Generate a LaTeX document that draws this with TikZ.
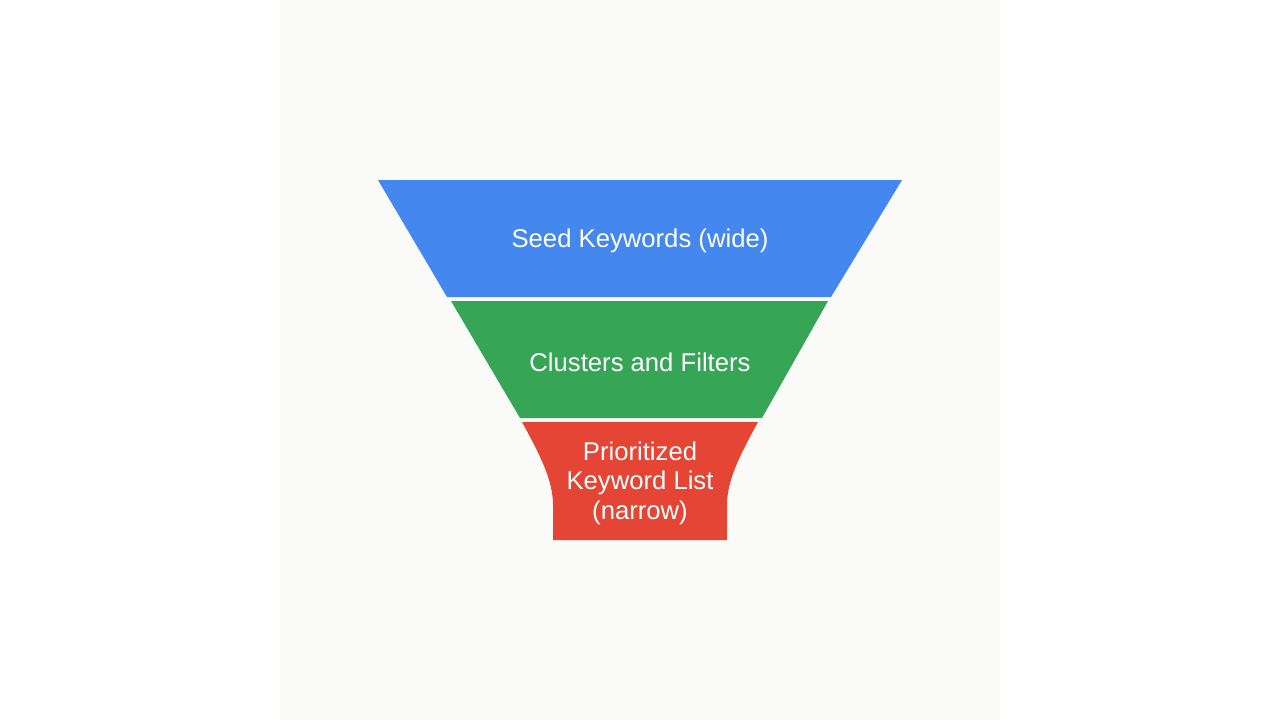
\documentclass[tikz,border=0pt]{standalone}
\usepackage{fontspec}
\setmainfont{Liberation Sans}
\definecolor{seedblue}{HTML}{4487EE}
\definecolor{clustergreen}{HTML}{37A556}
\definecolor{listred}{HTML}{E54535}
\definecolor{panelgray}{HTML}{FAFBF9}
\tikzset{
  label text/.style={text=white, font=\fontsize{7.3}{8.4}\selectfont, align=center}
}
\begin{document}
\begin{tikzpicture}[x=0.01cm, y=-0.01cm]
        \useasboundingbox[fill=white] (0,0) rectangle (1280,720);
        \fill[panelgray] (280,0) rectangle (1000,720);

        % funnel layers
        \fill[seedblue] (378,180) -- (902,180) -- (831,297) -- (447,297) -- cycle;
        \fill[clustergreen] (451,301) -- (828,301) -- (762,418) -- (520,418) -- cycle;
        \fill[listred] (522,422) -- (758,422)
            .. controls (740,455) and (727,480) .. (727,505) -- (727,540)
            -- (553,540) -- (553,505)
            .. controls (553,480) and (540,455) .. (522,422) -- cycle;

        \node[label text] (seed) at (640,241) {Seed Keywords (wide)};
        \node[label text] (clusters) at (640,362) {Clusters and Filters};
        \node[label text] (list) at (640,483) {Prioritized\\Keyword List\\(narrow)};
    \end{tikzpicture}
\end{document}
